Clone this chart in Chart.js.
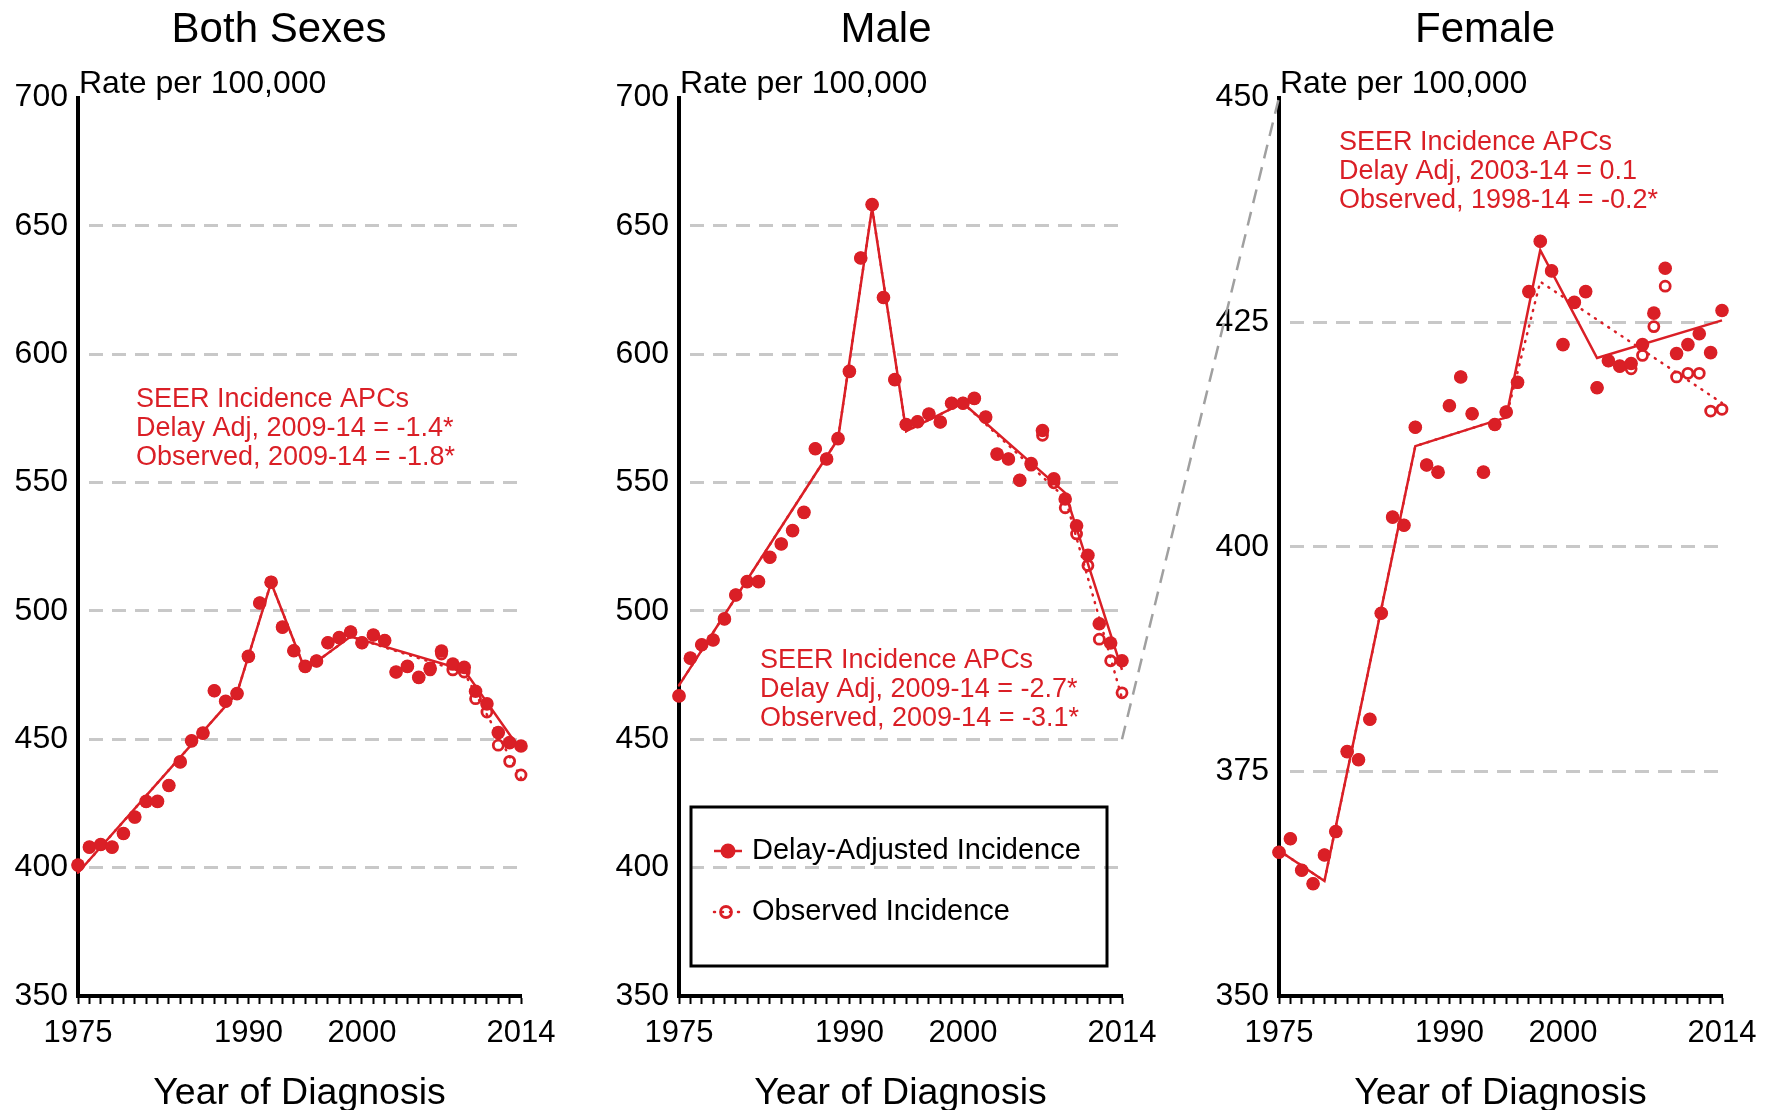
<!DOCTYPE html>
<html><head><meta charset="utf-8">
<script src="https://cdn.jsdelivr.net/npm/chart.js@4.4.1/dist/chart.umd.min.js"></script>
<style>
html,body{margin:0;padding:0;background:#fff;}
body{width:1767px;height:1110px;overflow:hidden;position:relative;}
canvas{position:absolute;top:0;}
</style></head><body>
<canvas id="c1" width="561" height="1110" style="left:0px"></canvas>
<canvas id="c2" width="561" height="1110" style="left:601px"></canvas>
<canvas id="c3" width="561" height="1110" style="left:1201px"></canvas>
<canvas id="ov" width="1767" height="1110" style="left:0px;pointer-events:none"></canvas>
<script>
// ---------- DATA ----------
const years = [1975,1976,1977,1978,1979,1980,1981,1982,1983,1984,1985,1986,1987,1988,1989,1990,1991,1992,1993,1994,1995,1996,1997,1998,1999,2000,2001,2002,2003,2004,2005,2006,2007,2008,2009,2010,2011,2012,2013,2014];
const xTickLabels = ['1975','1990','2000','2014'];
const yTicksAll = [350,400,450,500,550,600,650,700];
const yTicksFemale = [350,375,400,425,450];

const bothDelay = [401,408,409,408,413.3,419.7,425.8,425.8,432,441.2,449.4,452.4,468.9,464.8,467.8,482.3,503.1,511.2,493.7,484.5,478.4,480.5,487.6,489.6,491.8,487.6,490.6,488.5,476.2,478.4,474.1,477.7,484.4,479.3,478,468.7,463.8,452.6,448.7,447.4];
const bothObs   = [401,408,409,408,413.3,419.7,425.8,425.8,432,441.2,449.4,452.4,468.9,464.8,467.8,482.3,503.1,511.2,493.7,484.5,478.4,480.5,487.6,489.6,491.8,487.6,490.6,488.5,476.2,478.4,474.1,477,483.2,477,476.2,465.8,460.6,447.7,441.4,436.1];
const bothFitYears = [1975,1989,1992,1995,1999,2009,2014];
const bothFitDelay = [398,468,511,477,490,477,445.5];
const bothFitObs   = [398,468,511,477,490,476,435];

const maleDelay = [466.9,481.6,486.8,488.7,496.9,506.2,511.4,511.4,520.9,526.1,531.3,538.4,563.2,559.2,567.1,593.3,637.5,658.3,622.1,590.1,572.6,573.7,576.7,573.6,580.9,580.9,582.8,575.5,561.1,559.2,550.9,557.4,570.3,551.5,543.6,533.2,521.7,495,487.5,480.6];
const maleObs   = [466.9,481.6,486.8,488.7,496.9,506.2,511.4,511.4,520.9,526.1,531.3,538.4,563.2,559.2,567.1,593.3,637.5,658.3,622.1,590.1,572.6,573.7,576.7,573.6,580.9,580.9,582.8,575.5,561.1,559.2,550.9,556.8,568.4,549.9,540.2,530,517.7,489,480.6,468.1];
const maleFitYears = [1975,1989,1992,1995,2000,2009,2014];
const maleFitDelay = [471,567,657,570,581,546,477];
const maleFitObs   = [471,567,657,570,581,544,466];

const femaleDelay = [366.0,367.5,364.0,362.5,365.7,368.3,377.2,376.3,380.8,392.6,403.3,402.4,413.3,409.1,408.3,415.7,418.9,414.8,408.3,413.6,415.0,418.3,428.4,434.0,430.7,422.5,427.2,428.4,417.7,420.7,420.1,420.4,422.5,426.0,431.0,421.5,422.5,423.7,421.6,426.3];
const femaleObs   = [366.0,367.5,364.0,362.5,365.7,368.3,377.2,376.3,380.8,392.6,403.3,402.4,413.3,409.1,408.3,415.7,418.9,414.8,408.3,413.6,415.0,418.3,428.4,434.0,430.7,422.5,427.2,428.4,417.7,420.7,420.1,419.8,421.3,424.5,429.0,418.9,419.3,419.3,415.1,415.3];
const femaleDelayFitYears = [1975,1979,1987,1995,1998,2003,2014];
const femaleFitDelay = [366.2,362.8,411.2,414.4,433.0,421.0,425.2];
const femaleObsFitYears = [1975,1979,1987,1995,1998,2014];
const femaleFitObs = [366.2,362.8,411.2,414.4,429.5,416.0];

const panelTitles = ['Both Sexes','Male','Female'];
const yTitle = 'Rate per 100,000';
const xTitle = 'Year of Diagnosis';
const notesBoth = ['SEER Incidence APCs','Delay Adj, 2009-14 = -1.4*','Observed, 2009-14 = -1.8*'];
const notesMale = ['SEER Incidence APCs','Delay Adj, 2009-14 = -2.7*','Observed, 2009-14 = -3.1*'];
const notesFemale = ['SEER Incidence APCs','Delay Adj, 2003-14 = 0.1','Observed, 1998-14 = -0.2*'];
const legendLabels = ['Delay-Adjusted Incidence','Observed Incidence'];

// ---------- STYLE ----------
const RED = 'rgb(218,31,38)';
const FONT = "'Liberation Sans', Arial, Helvetica, sans-serif";
Chart.defaults.font.family = FONT;
Chart.defaults.color = '#000';

const pts = (xs, ys) => xs.map((x, i) => ({x: x, y: ys[i]}));

const textPlugin = {
  id: 'panelText',
  afterDraw(chart, args, o) {
    const ctx = chart.ctx, a = chart.chartArea;
    ctx.save();
    ctx.textBaseline = 'alphabetic';
    ctx.fillStyle = '#000';
    ctx.font = '42px ' + FONT;
    ctx.textAlign = 'center';
    ctx.fillText(o.title, o.titleX, 42);
    ctx.font = '32px ' + FONT;
    ctx.textAlign = 'left';
    ctx.fillText(yTitle, a.left + 1, 93);
    ctx.fillStyle = RED;
    ctx.font = '27px ' + FONT;
    o.notes.forEach((t, i) => ctx.fillText(t, o.noteX, o.noteY + i * 29));
    if (o.legend) {
      const L = o.legend;
      ctx.strokeStyle = '#000';
      ctx.lineWidth = 3;
      ctx.strokeRect(L.x, L.y, L.w, L.h);
      ctx.fillStyle = '#000';
      ctx.font = '29px ' + FONT;
      ctx.textBaseline = 'middle';
      legendLabels.forEach((t, i) => ctx.fillText(t, L.x + 61, L.y + 44 + i * 61));
      let cy = L.y + 44;
      ctx.strokeStyle = RED; ctx.lineWidth = 2.5;
      ctx.beginPath(); ctx.moveTo(L.x + 23, cy); ctx.lineTo(L.x + 51, cy); ctx.stroke();
      ctx.fillStyle = RED;
      ctx.beginPath(); ctx.arc(L.x + 37, cy, 7.5, 0, Math.PI * 2); ctx.fill();
      cy = L.y + 105;
      ctx.setLineDash([1, 7]); ctx.lineCap = 'round';
      ctx.beginPath(); ctx.moveTo(L.x + 23, cy); ctx.lineTo(L.x + 51, cy); ctx.stroke();
      ctx.setLineDash([]);
      ctx.lineWidth = 2.8;
      ctx.beginPath(); ctx.arc(L.x + 35, cy, 5.5, 0, Math.PI * 2); ctx.stroke();
    }
    ctx.restore();
  }
};

function makeChart(id, cfg) {
  return new Chart(document.getElementById(id), {
    type: 'line',
    data: { datasets: [
      { label: legendLabels[0], data: pts(years, cfg.delay), showLine: false,
        pointRadius: 6.8, pointBackgroundColor: RED, pointBorderWidth: 0, clip: false },
      { label: legendLabels[1], data: pts(years, cfg.obs), showLine: false,
        pointRadius: 5, pointBackgroundColor: 'rgba(0,0,0,0)', pointBorderColor: RED, pointBorderWidth: 2.8, clip: false },
      { label: 'Delay-Adjusted Trend', data: pts(cfg.fitYearsD, cfg.fitD),
        borderColor: RED, borderWidth: 2.5, pointRadius: 0, tension: 0, clip: false },
      { label: 'Observed Trend', data: pts(cfg.fitYearsO, cfg.fitO),
        borderColor: RED, borderWidth: 2.5, borderDash: [1, 7], borderCapStyle: 'round', pointRadius: 0, tension: 0, clip: false }
    ]},
    options: {
      responsive: false, animation: false, devicePixelRatio: 1, events: [],
      layout: { padding: { left: 0, right: 40, top: 97.5, bottom: 0 } },
      plugins: {
        legend: { display: false }, tooltip: { enabled: false }, title: { display: false },
        panelText: cfg.text
      },
      scales: {
        x: {
          type: 'linear', min: years[0], max: years[years.length - 1],
          afterBuildTicks: s => { s.ticks = years.map(v => ({value: v})); },
          ticks: { autoSkip: false, maxRotation: 0, minRotation: 0, padding: 11, color: '#000',
            font: { family: FONT, size: 31 },
            callback: v => xTickLabels.includes(String(v)) ? String(v) : '' },
          grid: { drawOnChartArea: false, drawTicks: true, tickLength: 8, tickWidth: 2, tickColor: '#000', color: '#000' },
          border: { display: true, color: '#000', width: 4 },
          title: { display: true, text: xTitle, color: '#000', font: { family: FONT, size: 37.5, lineHeight: 0.85 }, padding: 0 },
          afterFit: s => { s.height = 114; s.paddingLeft = 0; s.paddingRight = 0; }
        },
        y: {
          type: 'linear', min: cfg.yTicks[0], max: cfg.yTicks[cfg.yTicks.length - 1],
          afterBuildTicks: s => { s.ticks = cfg.yTicks.map(v => ({value: v})); },
          ticks: { padding: 10, color: '#000', font: { family: FONT, size: 32 } },
          grid: { drawTicks: false, lineWidth: 3,
            color: c => (c.tick && (c.tick.value === cfg.yTicks[0] || c.tick.value === cfg.yTicks[cfg.yTicks.length - 1])) ? 'rgba(0,0,0,0)' : '#c8c8c8' },
          border: { display: true, color: '#000', width: 4, dash: [14, 9], dashOffset: 14 },
          afterFit: s => { s.width = 78; s.paddingTop = 0; s.paddingBottom = 0; }
        }
      }
    },
    plugins: [textPlugin]
  });
}

const both = makeChart('c1', {
  delay: bothDelay, obs: bothObs, fitYearsD: bothFitYears, fitD: bothFitDelay, fitYearsO: bothFitYears, fitO: bothFitObs,
  yTicks: yTicksAll,
  text: { title: panelTitles[0], titleX: 279, notes: notesBoth, noteX: 136, noteY: 407 }
});
const male = makeChart('c2', {
  delay: maleDelay, obs: maleObs, fitYearsD: maleFitYears, fitD: maleFitDelay, fitYearsO: maleFitYears, fitO: maleFitObs,
  yTicks: yTicksAll,
  text: { title: panelTitles[1], titleX: 285, notes: notesMale, noteX: 159, noteY: 668,
          legend: { x: 90, y: 807, w: 416, h: 159 } }
});
const female = makeChart('c3', {
  delay: femaleDelay, obs: femaleObs, fitYearsD: femaleDelayFitYears, fitD: femaleFitDelay, fitYearsO: femaleObsFitYears, fitO: femaleFitObs,
  yTicks: yTicksFemale,
  text: { title: panelTitles[2], titleX: 284, notes: notesFemale, noteX: 138, noteY: 150 }
});

// zoom connector: male 450 line end -> female axis top (450)
(function () {
  const ctx = document.getElementById('ov').getContext('2d');
  const m = document.getElementById('c2').offsetLeft, f = document.getElementById('c3').offsetLeft;
  const zoomVal = yTicksFemale[yTicksFemale.length - 1];
  const x1 = m + male.scales.x.getPixelForValue(years[years.length - 1]);
  const y1 = male.scales.y.getPixelForValue(zoomVal);
  const x2 = f + female.scales.x.getPixelForValue(years[0]);
  const y2 = female.scales.y.getPixelForValue(zoomVal);
  ctx.strokeStyle = '#a0a0a0';
  ctx.lineWidth = 2.5;
  ctx.setLineDash([14, 9]);
  ctx.beginPath(); ctx.moveTo(x1, y1); ctx.lineTo(x2, y2); ctx.stroke();
})();
</script>
</body></html>
